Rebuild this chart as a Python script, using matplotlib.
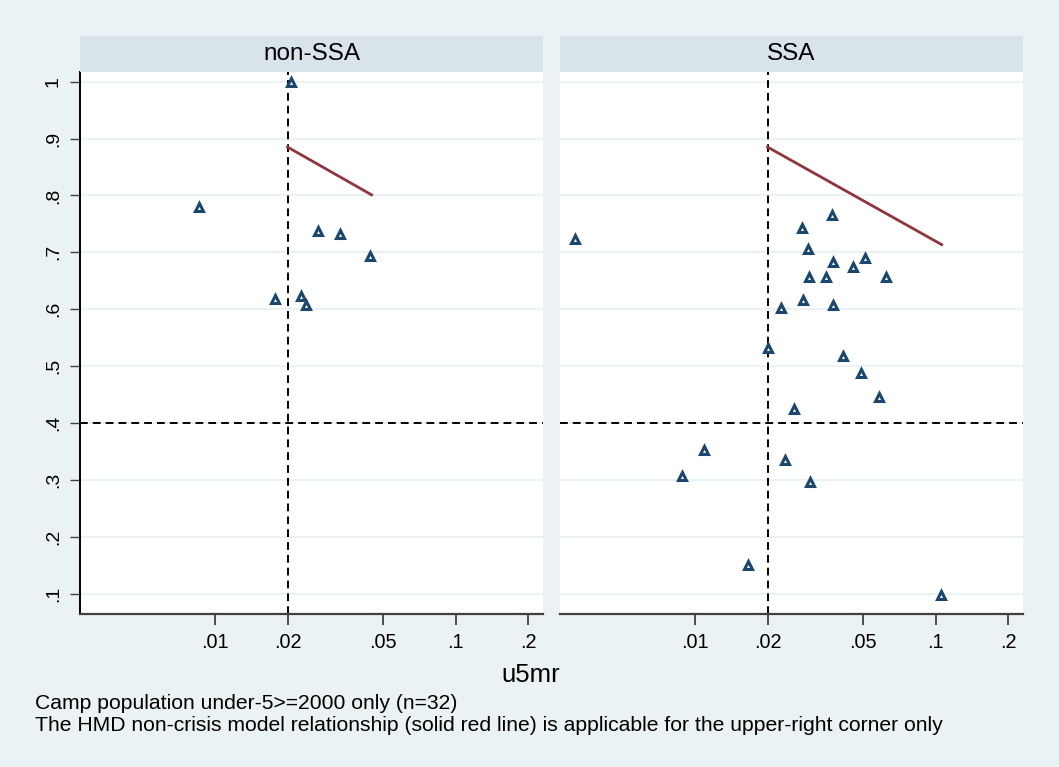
import matplotlib
matplotlib.use("Agg")
import matplotlib.pyplot as plt
import numpy as np

plt.rcParams['font.family'] = ['Liberation Sans', 'DejaVu Sans']

# non-SSA camps
nonssa_u5mr = [0.0206, 0.00853, 0.0267, 0.0331, 0.0440, 0.01765, 0.02274, 0.02377]
nonssa_y = [1.0, 0.780, 0.737, 0.733, 0.694, 0.617, 0.624, 0.608]

# SSA camps
ssa_u5mr = [0.00316, 0.0369, 0.0278, 0.0295, 0.0508, 0.0373, 0.0455, 0.0297,
            0.0350, 0.0622, 0.0282, 0.0375, 0.0227, 0.0200, 0.0413, 0.0487,
            0.0580, 0.0257, 0.01093, 0.00878, 0.02354, 0.02995, 0.0166, 0.1055]
ssa_y = [0.7235, 0.766, 0.743, 0.706, 0.690, 0.6825, 0.674, 0.656,
         0.656, 0.657, 0.6165, 0.608, 0.602, 0.532, 0.517, 0.488,
         0.446, 0.425, 0.352, 0.307, 0.335, 0.2965, 0.151, 0.098]

# HMD non-crisis model line (end points)
nonssa_model_x = [0.02, 0.0447]
nonssa_model_y = [0.885, 0.801]
ssa_model_x = [0.02, 0.1059]
ssa_model_y = [0.885, 0.7135]

panels = ["non-SSA", "SSA"]
xticks = [0.01, 0.02, 0.05, 0.1, 0.2]
xticklabels = [".01", ".02", ".05", ".1", ".2"]
yticks = [0.1, 0.2, 0.3, 0.4, 0.5, 0.6, 0.7, 0.8, 0.9, 1.0]
yticklabels = [".1", ".2", ".3", ".4", ".5", ".6", ".7", ".8", ".9", "1"]

bg = "#eaf2f3"
strip_col = "#d8e4ea"
navy = "#1a476f"
maroon = "#90353b"

fig = plt.figure(figsize=(10.59, 7.67), dpi=100, facecolor=bg)
W, H = 1059.0, 767.0
top_px, bot_px = 72, 614
lefts = [80, 560]
width_px = 463

data = [(nonssa_u5mr, nonssa_y, nonssa_model_x, nonssa_model_y),
        (ssa_u5mr, ssa_y, ssa_model_x, ssa_model_y)]

for i, name in enumerate(panels):
    l = lefts[i] / W
    w = width_px / W
    ax = fig.add_axes([l, 1 - bot_px / H, w, (bot_px - top_px) / H])
    ax.set_facecolor("white")
    ax.set_xscale("log")
    ax.set_xlim(0.002741, 0.2307)
    ax.set_ylim(0.064, 1.017)
    for yv in yticks:
        ax.axhline(yv, color=bg, lw=1.6, zorder=0)
    xs, ys, mx, my = data[i]
    ax.axvline(0.02, color="black", lw=1.4, ls=(0, (4, 2.6)), zorder=1)
    ax.axhline(0.4, color="black", lw=1.4, ls=(0, (4, 2.6)), zorder=1)
    ax.plot(mx, my, color=maroon, lw=2.0, zorder=2)
    ax.plot(xs, ys, ls="none", marker="^", ms=5.2, mfc="white", mec=navy,
            mew=2.2, zorder=3)
    ax.set_xticks(xticks)
    ax.set_xticklabels(xticklabels)
    ax.xaxis.set_minor_locator(matplotlib.ticker.NullLocator())
    ax.tick_params(axis="x", length=8, width=1.3, color="#404040",
                   labelsize=14.3, pad=6)
    for s in ["top", "right"]:
        ax.spines[s].set_visible(False)
    ax.spines["bottom"].set_color("#404040")
    ax.spines["bottom"].set_linewidth(1.6)
    if i == 0:
        ax.set_yticks(yticks)
        ax.set_yticklabels(yticklabels, rotation=90, va="center")
        ax.tick_params(axis="y", length=7, width=1.0, color="#404040",
                       labelsize=14, pad=6)
        ax.spines["left"].set_color("black")
        ax.spines["left"].set_linewidth(1.4)
    else:
        ax.set_yticks([])
        ax.spines["left"].set_visible(False)

    # strip header
    sax = fig.add_axes([l, 1 - top_px / H, w, 36 / H])
    sax.set_facecolor(strip_col)
    sax.set_xticks([])
    sax.set_yticks([])
    for s in sax.spines.values():
        s.set_visible(False)
    sax.text(0.5, 0.5, name, ha="center", va="center", fontsize=17.5,
             transform=sax.transAxes)

fig.text(531 / W, 1 - 682 / H, "u5mr", ha="center", va="baseline", fontsize=18.5)
fig.text(35 / W, 1 - 709 / H, "Camp population under-5>=2000 only (n=32)",
         ha="left", va="baseline", fontsize=15.2)
fig.text(35 / W, 1 - 731 / H,
         "The HMD non-crisis model relationship (solid red line) is applicable for the upper-right corner only",
         ha="left", va="baseline", fontsize=15.2)

fig.savefig("out.png", dpi=100, facecolor=bg)
